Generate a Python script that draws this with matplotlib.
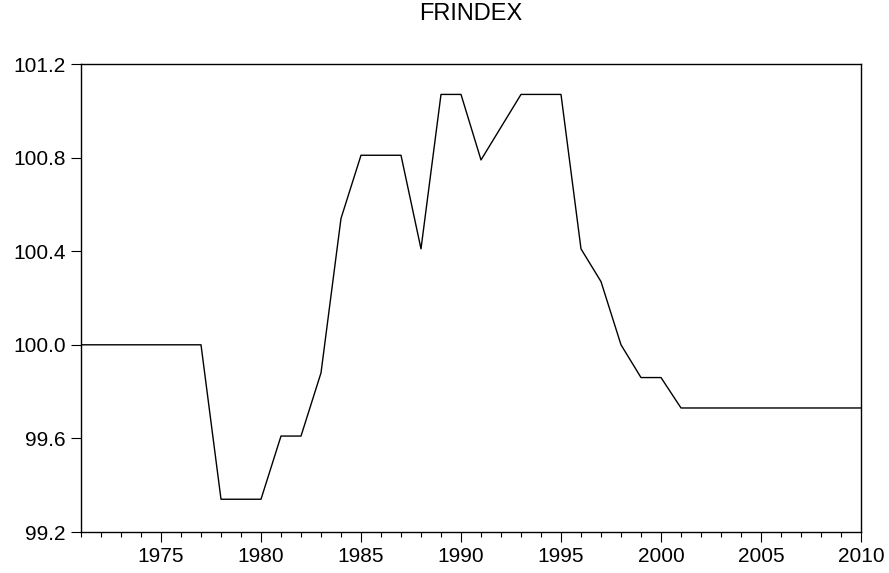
import matplotlib
matplotlib.use("Agg")
import matplotlib.pyplot as plt
from matplotlib.ticker import MultipleLocator, FormatStrFormatter

plt.rcParams["font.family"] = ["Liberation Sans", "DejaVu Sans"]

# FRINDEX, annual 1971-2010
years = list(range(1971, 2011))
frindex = [
    100.00, 100.00, 100.00, 100.00, 100.00, 100.00, 100.00,  # 1971-1977
    99.34, 99.34, 99.34,                                     # 1978-1980
    99.61, 99.61,                                            # 1981-1982
    99.88, 100.54,                                           # 1983-1984
    100.81, 100.81, 100.81,                                  # 1985-1987
    100.41,                                                  # 1988
    101.07, 101.07,                                          # 1989-1990
    100.79, 100.93,                                          # 1991-1992
    101.07, 101.07, 101.07,                                  # 1993-1995
    100.41, 100.27, 100.00,                                  # 1996-1998
    99.86, 99.86,                                            # 1999-2000
    99.73, 99.73, 99.73, 99.73, 99.73,                       # 2001-2005
    99.73, 99.73, 99.73, 99.73, 99.73,                       # 2006-2010
]
y_ticks = [99.2, 99.6, 100.0, 100.4, 100.8, 101.2]
x_major = [1975, 1980, 1985, 1990, 1995, 2000, 2005, 2010]

fig = plt.figure(figsize=(8.89, 5.73), dpi=100)
ax = fig.add_axes([81 / 889, 1 - 532 / 573, 780 / 889, 468 / 573])

ax.plot(years, frindex, color="black", lw=1.0)

ax.set_xlim(1971, 2010)
ax.set_ylim(99.2, 101.2)
ax.set_xticks(x_major)
ax.xaxis.set_minor_locator(MultipleLocator(1))
ax.set_yticks(y_ticks)
ax.yaxis.set_major_formatter(FormatStrFormatter("%.1f"))

ax.tick_params(axis="x", which="major", direction="out", length=7,
               width=0.8, labelsize=15, pad=4, top=False)
ax.tick_params(axis="x", which="minor", direction="out", length=3.5,
               width=0.8, top=False)
ax.tick_params(axis="y", which="major", direction="out", length=7,
               width=0.8, labelsize=15, pad=4, right=False)
for s in ax.spines.values():
    s.set_linewidth(1.0)
    s.set_color("black")

fig.text(471 / 889, 1 - 14 / 573, "FRINDEX", ha="center", va="center",
         fontsize=17)

fig.savefig("out.png", dpi=100)
